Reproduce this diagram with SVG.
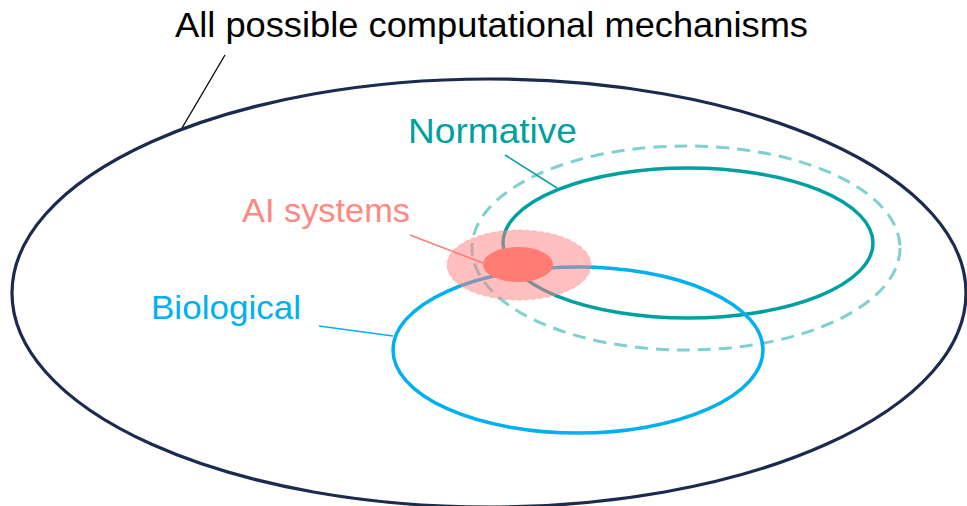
<svg xmlns="http://www.w3.org/2000/svg" width="967" height="506" viewBox="0 0 967 506">
<style>
text{font-family:"Liberation Sans","Open Sans",sans-serif;}
.outer{fill:none;stroke:#1b2b4f;stroke-width:3.2}
.normDash{fill:none;stroke:#80d0d0;stroke-width:3;stroke-dasharray:13 8}
.norm{fill:none;stroke:#00a0a0;stroke-width:3.5}
.bio{fill:none;stroke:#00b0f0;stroke-width:3.5}
.lead{fill:none}
</style>
<rect width="967" height="506" fill="#ffffff"/>
<g id="all-mechanisms">
<ellipse class="outer" cx="489" cy="293" rx="477" ry="214"/>
<text x="175" y="37" font-size="35" fill="#000000" textLength="633" lengthAdjust="spacingAndGlyphs">All possible computational mechanisms</text>
</g>
<g id="normative">
<ellipse class="normDash" cx="686" cy="248" rx="214" ry="102"/>
<ellipse class="norm" cx="688" cy="243" rx="185" ry="75"/>
<text x="408" y="143" font-size="35" fill="#00a0a0" textLength="169" lengthAdjust="spacingAndGlyphs">Normative</text>
</g>
<g id="biological">
<ellipse class="bio" cx="578" cy="350" rx="185" ry="83"/>
<text x="151" y="319" font-size="33" fill="#00b0f0" textLength="150" lengthAdjust="spacingAndGlyphs">Biological</text>
</g>
<g id="ai-systems">
<ellipse cx="519" cy="265" rx="72" ry="35" fill="#ff8080" fill-opacity="0.5" stroke="#ff8080" stroke-opacity="0.3" stroke-width="1.5" stroke-dasharray="4 3"/>
<ellipse cx="518" cy="264.5" rx="35" ry="17.5" fill="#ff7b74"/>
<text x="242" y="222" font-size="33" fill="#ff8880" textLength="168" lengthAdjust="spacingAndGlyphs">AI systems</text>
</g>
<g id="connectors">
<line class="lead" x1="225" y1="55" x2="182" y2="128" stroke="#000000" stroke-width="1.3"/>
<line class="lead" x1="505" y1="155" x2="557" y2="188" stroke="#00a0a0" stroke-width="1.5"/>
<line class="lead" x1="410" y1="235" x2="483" y2="263" stroke="#ff7b74" stroke-width="1.5"/>
<line class="lead" x1="319" y1="326" x2="393" y2="336" stroke="#00b0f0" stroke-width="1.5"/>
</g>
</svg>
